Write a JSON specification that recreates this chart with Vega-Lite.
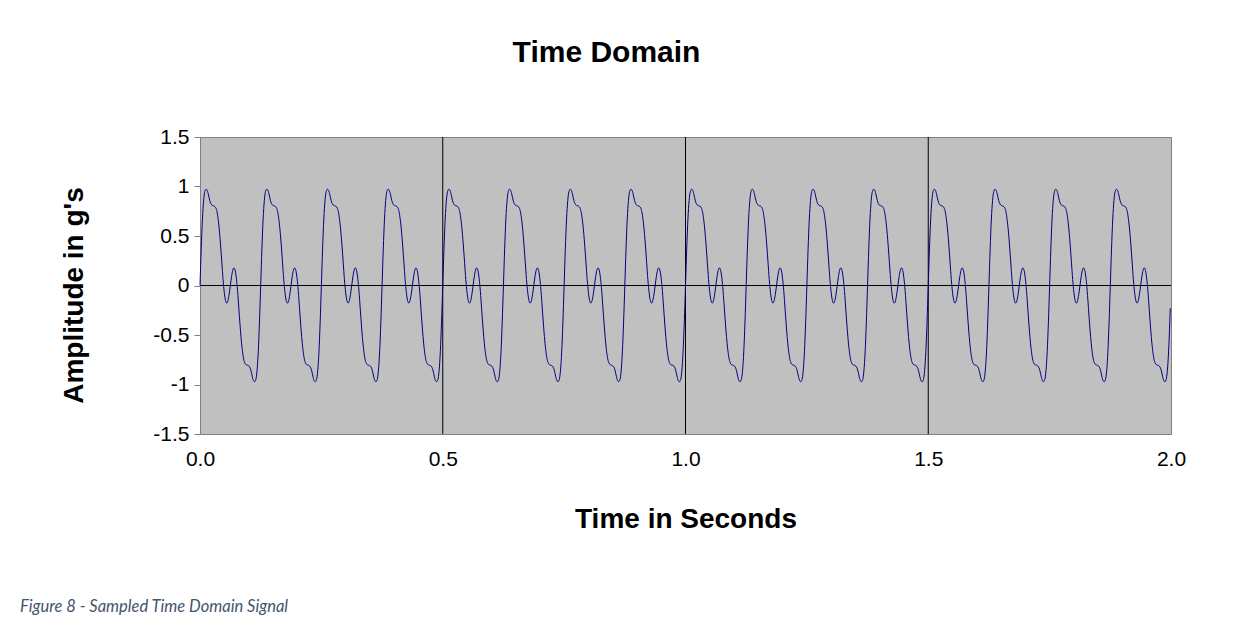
{
"$schema": "https://vega.github.io/schema/vega-lite/v6.json",
"width": 971, "height": 297,
"autosize": {"type": "none"},
"padding": {"left": 200, "top": 137, "right": 81, "bottom": 193},
"background": "white",
"config": {
  "view": {"fill": "#C0C0C0", "stroke": "#808080", "strokeWidth": 1},
  "font": "Liberation Sans",
  "axis": {"labelFont": "Liberation Sans", "titleFont": "Liberation Sans", "labelColor": "black", "titleColor": "black", "grid": false}
},
"title": {"text": "Figure 8 - Sampled Time Domain Signal", "orient": "bottom", "anchor": "start", "frame": "group", "dx": -180, "offset": 66, "font": "Lato", "fontStyle": "italic", "fontWeight": "normal", "fontSize": 16.5, "color": "#44546A"},
"resolve": {"axis": {"x": "independent"}},
"layer": [
 {"data": {"values": [{"t": 0.5}, {"t": 1}, {"t": 1.5}]},
  "mark": {"type": "rule", "color": "black", "strokeWidth": 1},
  "encoding": {"x": {"field": "t", "type": "quantitative", "scale": {"domain": [0, 2], "nice": false},
    "axis": {"orient": "top", "labels": false, "ticks": false, "domain": false, "title": "Time Domain", "titleFontSize": 30, "titleFontWeight": "bold", "titlePadding": 70, "titleX": 406}}}},
 {"data": {"values": [{"level": 0}]},
  "mark": {"type": "rule", "color": "black", "strokeWidth": 1},
  "encoding": {"y": {"datum": 0, "type": "quantitative"}}},
 {"data": {"values": [
{"t":0,"g":0},{"t":0.0025,"g":0.37},{"t":0.005,"g":0.67},{"t":0.0075,"g":0.86},{"t":0.01,"g":0.95},{"t":0.0125,"g":0.972},{"t":0.015,"g":0.96},{"t":0.0175,"g":0.915},{"t":0.02,"g":0.86},{"t":0.0225,"g":0.825},{"t":0.025,"g":0.81},{"t":0.0275,"g":0.805},{"t":0.03,"g":0.8},{"t":0.0325,"g":0.785},{"t":0.035,"g":0.745},{"t":0.0375,"g":0.665},{"t":0.04,"g":0.55},{"t":0.0425,"g":0.4},{"t":0.045,"g":0.23},{"t":0.0475,"g":0.06},{"t":0.05,"g":-0.07},{"t":0.0525,"g":-0.15},{"t":0.055,"g":-0.178},{"t":0.0575,"g":-0.155},{"t":0.06,"g":-0.09},{"t":0.0625,"g":0},{"t":0.065,"g":0.09},{"t":0.0675,"g":0.155},{"t":0.07,"g":0.178},{"t":0.0725,"g":0.15},{"t":0.075,"g":0.07},{"t":0.0775,"g":-0.06},{"t":0.08,"g":-0.23},{"t":0.0825,"g":-0.4},{"t":0.085,"g":-0.55},{"t":0.0875,"g":-0.665},{"t":0.09,"g":-0.745},{"t":0.0925,"g":-0.785},{"t":0.095,"g":-0.8},{"t":0.0975,"g":-0.805},{"t":0.1,"g":-0.81},{"t":0.1025,"g":-0.825},{"t":0.105,"g":-0.86},{"t":0.1075,"g":-0.915},{"t":0.11,"g":-0.96},{"t":0.1125,"g":-0.972},{"t":0.115,"g":-0.95},{"t":0.1175,"g":-0.86},{"t":0.12,"g":-0.67},{"t":0.1225,"g":-0.37},
{"t":0.125,"g":0},{"t":0.1275,"g":0.37},{"t":0.13,"g":0.67},{"t":0.1325,"g":0.86},{"t":0.135,"g":0.95},{"t":0.1375,"g":0.972},{"t":0.14,"g":0.96},{"t":0.1425,"g":0.915},{"t":0.145,"g":0.86},{"t":0.1475,"g":0.825},{"t":0.15,"g":0.81},{"t":0.1525,"g":0.805},{"t":0.155,"g":0.8},{"t":0.1575,"g":0.785},{"t":0.16,"g":0.745},{"t":0.1625,"g":0.665},{"t":0.165,"g":0.55},{"t":0.1675,"g":0.4},{"t":0.17,"g":0.23},{"t":0.1725,"g":0.06},{"t":0.175,"g":-0.07},{"t":0.1775,"g":-0.15},{"t":0.18,"g":-0.178},{"t":0.1825,"g":-0.155},{"t":0.185,"g":-0.09},{"t":0.1875,"g":0},{"t":0.19,"g":0.09},{"t":0.1925,"g":0.155},{"t":0.195,"g":0.178},{"t":0.1975,"g":0.15},{"t":0.2,"g":0.07},{"t":0.2025,"g":-0.06},{"t":0.205,"g":-0.23},{"t":0.2075,"g":-0.4},{"t":0.21,"g":-0.55},{"t":0.2125,"g":-0.665},{"t":0.215,"g":-0.745},{"t":0.2175,"g":-0.785},{"t":0.22,"g":-0.8},{"t":0.2225,"g":-0.805},{"t":0.225,"g":-0.81},{"t":0.2275,"g":-0.825},{"t":0.23,"g":-0.86},{"t":0.2325,"g":-0.915},{"t":0.235,"g":-0.96},{"t":0.2375,"g":-0.972},{"t":0.24,"g":-0.95},{"t":0.2425,"g":-0.86},{"t":0.245,"g":-0.67},{"t":0.2475,"g":-0.37},
{"t":0.25,"g":0},{"t":0.2525,"g":0.37},{"t":0.255,"g":0.67},{"t":0.2575,"g":0.86},{"t":0.26,"g":0.95},{"t":0.2625,"g":0.972},{"t":0.265,"g":0.96},{"t":0.2675,"g":0.915},{"t":0.27,"g":0.86},{"t":0.2725,"g":0.825},{"t":0.275,"g":0.81},{"t":0.2775,"g":0.805},{"t":0.28,"g":0.8},{"t":0.2825,"g":0.785},{"t":0.285,"g":0.745},{"t":0.2875,"g":0.665},{"t":0.29,"g":0.55},{"t":0.2925,"g":0.4},{"t":0.295,"g":0.23},{"t":0.2975,"g":0.06},{"t":0.3,"g":-0.07},{"t":0.3025,"g":-0.15},{"t":0.305,"g":-0.178},{"t":0.3075,"g":-0.155},{"t":0.31,"g":-0.09},{"t":0.3125,"g":0},{"t":0.315,"g":0.09},{"t":0.3175,"g":0.155},{"t":0.32,"g":0.178},{"t":0.3225,"g":0.15},{"t":0.325,"g":0.07},{"t":0.3275,"g":-0.06},{"t":0.33,"g":-0.23},{"t":0.3325,"g":-0.4},{"t":0.335,"g":-0.55},{"t":0.3375,"g":-0.665},{"t":0.34,"g":-0.745},{"t":0.3425,"g":-0.785},{"t":0.345,"g":-0.8},{"t":0.3475,"g":-0.805},{"t":0.35,"g":-0.81},{"t":0.3525,"g":-0.825},{"t":0.355,"g":-0.86},{"t":0.3575,"g":-0.915},{"t":0.36,"g":-0.96},{"t":0.3625,"g":-0.972},{"t":0.365,"g":-0.95},{"t":0.3675,"g":-0.86},{"t":0.37,"g":-0.67},{"t":0.3725,"g":-0.37},
{"t":0.375,"g":0},{"t":0.3775,"g":0.37},{"t":0.38,"g":0.67},{"t":0.3825,"g":0.86},{"t":0.385,"g":0.95},{"t":0.3875,"g":0.972},{"t":0.39,"g":0.96},{"t":0.3925,"g":0.915},{"t":0.395,"g":0.86},{"t":0.3975,"g":0.825},{"t":0.4,"g":0.81},{"t":0.4025,"g":0.805},{"t":0.405,"g":0.8},{"t":0.4075,"g":0.785},{"t":0.41,"g":0.745},{"t":0.4125,"g":0.665},{"t":0.415,"g":0.55},{"t":0.4175,"g":0.4},{"t":0.42,"g":0.23},{"t":0.4225,"g":0.06},{"t":0.425,"g":-0.07},{"t":0.4275,"g":-0.15},{"t":0.43,"g":-0.178},{"t":0.4325,"g":-0.155},{"t":0.435,"g":-0.09},{"t":0.4375,"g":0},{"t":0.44,"g":0.09},{"t":0.4425,"g":0.155},{"t":0.445,"g":0.178},{"t":0.4475,"g":0.15},{"t":0.45,"g":0.07},{"t":0.4525,"g":-0.06},{"t":0.455,"g":-0.23},{"t":0.4575,"g":-0.4},{"t":0.46,"g":-0.55},{"t":0.4625,"g":-0.665},{"t":0.465,"g":-0.745},{"t":0.4675,"g":-0.785},{"t":0.47,"g":-0.8},{"t":0.4725,"g":-0.805},{"t":0.475,"g":-0.81},{"t":0.4775,"g":-0.825},{"t":0.48,"g":-0.86},{"t":0.4825,"g":-0.915},{"t":0.485,"g":-0.96},{"t":0.4875,"g":-0.972},{"t":0.49,"g":-0.95},{"t":0.4925,"g":-0.86},{"t":0.495,"g":-0.67},{"t":0.4975,"g":-0.37},
{"t":0.5,"g":0},{"t":0.5025,"g":0.37},{"t":0.505,"g":0.67},{"t":0.5075,"g":0.86},{"t":0.51,"g":0.95},{"t":0.5125,"g":0.972},{"t":0.515,"g":0.96},{"t":0.5175,"g":0.915},{"t":0.52,"g":0.86},{"t":0.5225,"g":0.825},{"t":0.525,"g":0.81},{"t":0.5275,"g":0.805},{"t":0.53,"g":0.8},{"t":0.5325,"g":0.785},{"t":0.535,"g":0.745},{"t":0.5375,"g":0.665},{"t":0.54,"g":0.55},{"t":0.5425,"g":0.4},{"t":0.545,"g":0.23},{"t":0.5475,"g":0.06},{"t":0.55,"g":-0.07},{"t":0.5525,"g":-0.15},{"t":0.555,"g":-0.178},{"t":0.5575,"g":-0.155},{"t":0.56,"g":-0.09},{"t":0.5625,"g":0},{"t":0.565,"g":0.09},{"t":0.5675,"g":0.155},{"t":0.57,"g":0.178},{"t":0.5725,"g":0.15},{"t":0.575,"g":0.07},{"t":0.5775,"g":-0.06},{"t":0.58,"g":-0.23},{"t":0.5825,"g":-0.4},{"t":0.585,"g":-0.55},{"t":0.5875,"g":-0.665},{"t":0.59,"g":-0.745},{"t":0.5925,"g":-0.785},{"t":0.595,"g":-0.8},{"t":0.5975,"g":-0.805},{"t":0.6,"g":-0.81},{"t":0.6025,"g":-0.825},{"t":0.605,"g":-0.86},{"t":0.6075,"g":-0.915},{"t":0.61,"g":-0.96},{"t":0.6125,"g":-0.972},{"t":0.615,"g":-0.95},{"t":0.6175,"g":-0.86},{"t":0.62,"g":-0.67},{"t":0.6225,"g":-0.37},
{"t":0.625,"g":0},{"t":0.6275,"g":0.37},{"t":0.63,"g":0.67},{"t":0.6325,"g":0.86},{"t":0.635,"g":0.95},{"t":0.6375,"g":0.972},{"t":0.64,"g":0.96},{"t":0.6425,"g":0.915},{"t":0.645,"g":0.86},{"t":0.6475,"g":0.825},{"t":0.65,"g":0.81},{"t":0.6525,"g":0.805},{"t":0.655,"g":0.8},{"t":0.6575,"g":0.785},{"t":0.66,"g":0.745},{"t":0.6625,"g":0.665},{"t":0.665,"g":0.55},{"t":0.6675,"g":0.4},{"t":0.67,"g":0.23},{"t":0.6725,"g":0.06},{"t":0.675,"g":-0.07},{"t":0.6775,"g":-0.15},{"t":0.68,"g":-0.178},{"t":0.6825,"g":-0.155},{"t":0.685,"g":-0.09},{"t":0.6875,"g":0},{"t":0.69,"g":0.09},{"t":0.6925,"g":0.155},{"t":0.695,"g":0.178},{"t":0.6975,"g":0.15},{"t":0.7,"g":0.07},{"t":0.7025,"g":-0.06},{"t":0.705,"g":-0.23},{"t":0.7075,"g":-0.4},{"t":0.71,"g":-0.55},{"t":0.7125,"g":-0.665},{"t":0.715,"g":-0.745},{"t":0.7175,"g":-0.785},{"t":0.72,"g":-0.8},{"t":0.7225,"g":-0.805},{"t":0.725,"g":-0.81},{"t":0.7275,"g":-0.825},{"t":0.73,"g":-0.86},{"t":0.7325,"g":-0.915},{"t":0.735,"g":-0.96},{"t":0.7375,"g":-0.972},{"t":0.74,"g":-0.95},{"t":0.7425,"g":-0.86},{"t":0.745,"g":-0.67},{"t":0.7475,"g":-0.37},
{"t":0.75,"g":0},{"t":0.7525,"g":0.37},{"t":0.755,"g":0.67},{"t":0.7575,"g":0.86},{"t":0.76,"g":0.95},{"t":0.7625,"g":0.972},{"t":0.765,"g":0.96},{"t":0.7675,"g":0.915},{"t":0.77,"g":0.86},{"t":0.7725,"g":0.825},{"t":0.775,"g":0.81},{"t":0.7775,"g":0.805},{"t":0.78,"g":0.8},{"t":0.7825,"g":0.785},{"t":0.785,"g":0.745},{"t":0.7875,"g":0.665},{"t":0.79,"g":0.55},{"t":0.7925,"g":0.4},{"t":0.795,"g":0.23},{"t":0.7975,"g":0.06},{"t":0.8,"g":-0.07},{"t":0.8025,"g":-0.15},{"t":0.805,"g":-0.178},{"t":0.8075,"g":-0.155},{"t":0.81,"g":-0.09},{"t":0.8125,"g":0},{"t":0.815,"g":0.09},{"t":0.8175,"g":0.155},{"t":0.82,"g":0.178},{"t":0.8225,"g":0.15},{"t":0.825,"g":0.07},{"t":0.8275,"g":-0.06},{"t":0.83,"g":-0.23},{"t":0.8325,"g":-0.4},{"t":0.835,"g":-0.55},{"t":0.8375,"g":-0.665},{"t":0.84,"g":-0.745},{"t":0.8425,"g":-0.785},{"t":0.845,"g":-0.8},{"t":0.8475,"g":-0.805},{"t":0.85,"g":-0.81},{"t":0.8525,"g":-0.825},{"t":0.855,"g":-0.86},{"t":0.8575,"g":-0.915},{"t":0.86,"g":-0.96},{"t":0.8625,"g":-0.972},{"t":0.865,"g":-0.95},{"t":0.8675,"g":-0.86},{"t":0.87,"g":-0.67},{"t":0.8725,"g":-0.37},
{"t":0.875,"g":0},{"t":0.8775,"g":0.37},{"t":0.88,"g":0.67},{"t":0.8825,"g":0.86},{"t":0.885,"g":0.95},{"t":0.8875,"g":0.972},{"t":0.89,"g":0.96},{"t":0.8925,"g":0.915},{"t":0.895,"g":0.86},{"t":0.8975,"g":0.825},{"t":0.9,"g":0.81},{"t":0.9025,"g":0.805},{"t":0.905,"g":0.8},{"t":0.9075,"g":0.785},{"t":0.91,"g":0.745},{"t":0.9125,"g":0.665},{"t":0.915,"g":0.55},{"t":0.9175,"g":0.4},{"t":0.92,"g":0.23},{"t":0.9225,"g":0.06},{"t":0.925,"g":-0.07},{"t":0.9275,"g":-0.15},{"t":0.93,"g":-0.178},{"t":0.9325,"g":-0.155},{"t":0.935,"g":-0.09},{"t":0.9375,"g":0},{"t":0.94,"g":0.09},{"t":0.9425,"g":0.155},{"t":0.945,"g":0.178},{"t":0.9475,"g":0.15},{"t":0.95,"g":0.07},{"t":0.9525,"g":-0.06},{"t":0.955,"g":-0.23},{"t":0.9575,"g":-0.4},{"t":0.96,"g":-0.55},{"t":0.9625,"g":-0.665},{"t":0.965,"g":-0.745},{"t":0.9675,"g":-0.785},{"t":0.97,"g":-0.8},{"t":0.9725,"g":-0.805},{"t":0.975,"g":-0.81},{"t":0.9775,"g":-0.825},{"t":0.98,"g":-0.86},{"t":0.9825,"g":-0.915},{"t":0.985,"g":-0.96},{"t":0.9875,"g":-0.972},{"t":0.99,"g":-0.95},{"t":0.9925,"g":-0.86},{"t":0.995,"g":-0.67},{"t":0.9975,"g":-0.37},
{"t":1,"g":0},{"t":1.0025,"g":0.37},{"t":1.005,"g":0.67},{"t":1.0075,"g":0.86},{"t":1.01,"g":0.95},{"t":1.0125,"g":0.972},{"t":1.015,"g":0.96},{"t":1.0175,"g":0.915},{"t":1.02,"g":0.86},{"t":1.0225,"g":0.825},{"t":1.025,"g":0.81},{"t":1.0275,"g":0.805},{"t":1.03,"g":0.8},{"t":1.0325,"g":0.785},{"t":1.035,"g":0.745},{"t":1.0375,"g":0.665},{"t":1.04,"g":0.55},{"t":1.0425,"g":0.4},{"t":1.045,"g":0.23},{"t":1.0475,"g":0.06},{"t":1.05,"g":-0.07},{"t":1.0525,"g":-0.15},{"t":1.055,"g":-0.178},{"t":1.0575,"g":-0.155},{"t":1.06,"g":-0.09},{"t":1.0625,"g":0},{"t":1.065,"g":0.09},{"t":1.0675,"g":0.155},{"t":1.07,"g":0.178},{"t":1.0725,"g":0.15},{"t":1.075,"g":0.07},{"t":1.0775,"g":-0.06},{"t":1.08,"g":-0.23},{"t":1.0825,"g":-0.4},{"t":1.085,"g":-0.55},{"t":1.0875,"g":-0.665},{"t":1.09,"g":-0.745},{"t":1.0925,"g":-0.785},{"t":1.095,"g":-0.8},{"t":1.0975,"g":-0.805},{"t":1.1,"g":-0.81},{"t":1.1025,"g":-0.825},{"t":1.105,"g":-0.86},{"t":1.1075,"g":-0.915},{"t":1.11,"g":-0.96},{"t":1.1125,"g":-0.972},{"t":1.115,"g":-0.95},{"t":1.1175,"g":-0.86},{"t":1.12,"g":-0.67},{"t":1.1225,"g":-0.37},
{"t":1.125,"g":0},{"t":1.1275,"g":0.37},{"t":1.13,"g":0.67},{"t":1.1325,"g":0.86},{"t":1.135,"g":0.95},{"t":1.1375,"g":0.972},{"t":1.14,"g":0.96},{"t":1.1425,"g":0.915},{"t":1.145,"g":0.86},{"t":1.1475,"g":0.825},{"t":1.15,"g":0.81},{"t":1.1525,"g":0.805},{"t":1.155,"g":0.8},{"t":1.1575,"g":0.785},{"t":1.16,"g":0.745},{"t":1.1625,"g":0.665},{"t":1.165,"g":0.55},{"t":1.1675,"g":0.4},{"t":1.17,"g":0.23},{"t":1.1725,"g":0.06},{"t":1.175,"g":-0.07},{"t":1.1775,"g":-0.15},{"t":1.18,"g":-0.178},{"t":1.1825,"g":-0.155},{"t":1.185,"g":-0.09},{"t":1.1875,"g":0},{"t":1.19,"g":0.09},{"t":1.1925,"g":0.155},{"t":1.195,"g":0.178},{"t":1.1975,"g":0.15},{"t":1.2,"g":0.07},{"t":1.2025,"g":-0.06},{"t":1.205,"g":-0.23},{"t":1.2075,"g":-0.4},{"t":1.21,"g":-0.55},{"t":1.2125,"g":-0.665},{"t":1.215,"g":-0.745},{"t":1.2175,"g":-0.785},{"t":1.22,"g":-0.8},{"t":1.2225,"g":-0.805},{"t":1.225,"g":-0.81},{"t":1.2275,"g":-0.825},{"t":1.23,"g":-0.86},{"t":1.2325,"g":-0.915},{"t":1.235,"g":-0.96},{"t":1.2375,"g":-0.972},{"t":1.24,"g":-0.95},{"t":1.2425,"g":-0.86},{"t":1.245,"g":-0.67},{"t":1.2475,"g":-0.37},
{"t":1.25,"g":0},{"t":1.2525,"g":0.37},{"t":1.255,"g":0.67},{"t":1.2575,"g":0.86},{"t":1.26,"g":0.95},{"t":1.2625,"g":0.972},{"t":1.265,"g":0.96},{"t":1.2675,"g":0.915},{"t":1.27,"g":0.86},{"t":1.2725,"g":0.825},{"t":1.275,"g":0.81},{"t":1.2775,"g":0.805},{"t":1.28,"g":0.8},{"t":1.2825,"g":0.785},{"t":1.285,"g":0.745},{"t":1.2875,"g":0.665},{"t":1.29,"g":0.55},{"t":1.2925,"g":0.4},{"t":1.295,"g":0.23},{"t":1.2975,"g":0.06},{"t":1.3,"g":-0.07},{"t":1.3025,"g":-0.15},{"t":1.305,"g":-0.178},{"t":1.3075,"g":-0.155},{"t":1.31,"g":-0.09},{"t":1.3125,"g":0},{"t":1.315,"g":0.09},{"t":1.3175,"g":0.155},{"t":1.32,"g":0.178},{"t":1.3225,"g":0.15},{"t":1.325,"g":0.07},{"t":1.3275,"g":-0.06},{"t":1.33,"g":-0.23},{"t":1.3325,"g":-0.4},{"t":1.335,"g":-0.55},{"t":1.3375,"g":-0.665},{"t":1.34,"g":-0.745},{"t":1.3425,"g":-0.785},{"t":1.345,"g":-0.8},{"t":1.3475,"g":-0.805},{"t":1.35,"g":-0.81},{"t":1.3525,"g":-0.825},{"t":1.355,"g":-0.86},{"t":1.3575,"g":-0.915},{"t":1.36,"g":-0.96},{"t":1.3625,"g":-0.972},{"t":1.365,"g":-0.95},{"t":1.3675,"g":-0.86},{"t":1.37,"g":-0.67},{"t":1.3725,"g":-0.37},
{"t":1.375,"g":0},{"t":1.3775,"g":0.37},{"t":1.38,"g":0.67},{"t":1.3825,"g":0.86},{"t":1.385,"g":0.95},{"t":1.3875,"g":0.972},{"t":1.39,"g":0.96},{"t":1.3925,"g":0.915},{"t":1.395,"g":0.86},{"t":1.3975,"g":0.825},{"t":1.4,"g":0.81},{"t":1.4025,"g":0.805},{"t":1.405,"g":0.8},{"t":1.4075,"g":0.785},{"t":1.41,"g":0.745},{"t":1.4125,"g":0.665},{"t":1.415,"g":0.55},{"t":1.4175,"g":0.4},{"t":1.42,"g":0.23},{"t":1.4225,"g":0.06},{"t":1.425,"g":-0.07},{"t":1.4275,"g":-0.15},{"t":1.43,"g":-0.178},{"t":1.4325,"g":-0.155},{"t":1.435,"g":-0.09},{"t":1.4375,"g":0},{"t":1.44,"g":0.09},{"t":1.4425,"g":0.155},{"t":1.445,"g":0.178},{"t":1.4475,"g":0.15},{"t":1.45,"g":0.07},{"t":1.4525,"g":-0.06},{"t":1.455,"g":-0.23},{"t":1.4575,"g":-0.4},{"t":1.46,"g":-0.55},{"t":1.4625,"g":-0.665},{"t":1.465,"g":-0.745},{"t":1.4675,"g":-0.785},{"t":1.47,"g":-0.8},{"t":1.4725,"g":-0.805},{"t":1.475,"g":-0.81},{"t":1.4775,"g":-0.825},{"t":1.48,"g":-0.86},{"t":1.4825,"g":-0.915},{"t":1.485,"g":-0.96},{"t":1.4875,"g":-0.972},{"t":1.49,"g":-0.95},{"t":1.4925,"g":-0.86},{"t":1.495,"g":-0.67},{"t":1.4975,"g":-0.37},
{"t":1.5,"g":0},{"t":1.5025,"g":0.37},{"t":1.505,"g":0.67},{"t":1.5075,"g":0.86},{"t":1.51,"g":0.95},{"t":1.5125,"g":0.972},{"t":1.515,"g":0.96},{"t":1.5175,"g":0.915},{"t":1.52,"g":0.86},{"t":1.5225,"g":0.825},{"t":1.525,"g":0.81},{"t":1.5275,"g":0.805},{"t":1.53,"g":0.8},{"t":1.5325,"g":0.785},{"t":1.535,"g":0.745},{"t":1.5375,"g":0.665},{"t":1.54,"g":0.55},{"t":1.5425,"g":0.4},{"t":1.545,"g":0.23},{"t":1.5475,"g":0.06},{"t":1.55,"g":-0.07},{"t":1.5525,"g":-0.15},{"t":1.555,"g":-0.178},{"t":1.5575,"g":-0.155},{"t":1.56,"g":-0.09},{"t":1.5625,"g":0},{"t":1.565,"g":0.09},{"t":1.5675,"g":0.155},{"t":1.57,"g":0.178},{"t":1.5725,"g":0.15},{"t":1.575,"g":0.07},{"t":1.5775,"g":-0.06},{"t":1.58,"g":-0.23},{"t":1.5825,"g":-0.4},{"t":1.585,"g":-0.55},{"t":1.5875,"g":-0.665},{"t":1.59,"g":-0.745},{"t":1.5925,"g":-0.785},{"t":1.595,"g":-0.8},{"t":1.5975,"g":-0.805},{"t":1.6,"g":-0.81},{"t":1.6025,"g":-0.825},{"t":1.605,"g":-0.86},{"t":1.6075,"g":-0.915},{"t":1.61,"g":-0.96},{"t":1.6125,"g":-0.972},{"t":1.615,"g":-0.95},{"t":1.6175,"g":-0.86},{"t":1.62,"g":-0.67},{"t":1.6225,"g":-0.37},
{"t":1.625,"g":0},{"t":1.6275,"g":0.37},{"t":1.63,"g":0.67},{"t":1.6325,"g":0.86},{"t":1.635,"g":0.95},{"t":1.6375,"g":0.972},{"t":1.64,"g":0.96},{"t":1.6425,"g":0.915},{"t":1.645,"g":0.86},{"t":1.6475,"g":0.825},{"t":1.65,"g":0.81},{"t":1.6525,"g":0.805},{"t":1.655,"g":0.8},{"t":1.6575,"g":0.785},{"t":1.66,"g":0.745},{"t":1.6625,"g":0.665},{"t":1.665,"g":0.55},{"t":1.6675,"g":0.4},{"t":1.67,"g":0.23},{"t":1.6725,"g":0.06},{"t":1.675,"g":-0.07},{"t":1.6775,"g":-0.15},{"t":1.68,"g":-0.178},{"t":1.6825,"g":-0.155},{"t":1.685,"g":-0.09},{"t":1.6875,"g":0},{"t":1.69,"g":0.09},{"t":1.6925,"g":0.155},{"t":1.695,"g":0.178},{"t":1.6975,"g":0.15},{"t":1.7,"g":0.07},{"t":1.7025,"g":-0.06},{"t":1.705,"g":-0.23},{"t":1.7075,"g":-0.4},{"t":1.71,"g":-0.55},{"t":1.7125,"g":-0.665},{"t":1.715,"g":-0.745},{"t":1.7175,"g":-0.785},{"t":1.72,"g":-0.8},{"t":1.7225,"g":-0.805},{"t":1.725,"g":-0.81},{"t":1.7275,"g":-0.825},{"t":1.73,"g":-0.86},{"t":1.7325,"g":-0.915},{"t":1.735,"g":-0.96},{"t":1.7375,"g":-0.972},{"t":1.74,"g":-0.95},{"t":1.7425,"g":-0.86},{"t":1.745,"g":-0.67},{"t":1.7475,"g":-0.37},
{"t":1.75,"g":0},{"t":1.7525,"g":0.37},{"t":1.755,"g":0.67},{"t":1.7575,"g":0.86},{"t":1.76,"g":0.95},{"t":1.7625,"g":0.972},{"t":1.765,"g":0.96},{"t":1.7675,"g":0.915},{"t":1.77,"g":0.86},{"t":1.7725,"g":0.825},{"t":1.775,"g":0.81},{"t":1.7775,"g":0.805},{"t":1.78,"g":0.8},{"t":1.7825,"g":0.785},{"t":1.785,"g":0.745},{"t":1.7875,"g":0.665},{"t":1.79,"g":0.55},{"t":1.7925,"g":0.4},{"t":1.795,"g":0.23},{"t":1.7975,"g":0.06},{"t":1.8,"g":-0.07},{"t":1.8025,"g":-0.15},{"t":1.805,"g":-0.178},{"t":1.8075,"g":-0.155},{"t":1.81,"g":-0.09},{"t":1.8125,"g":0},{"t":1.815,"g":0.09},{"t":1.8175,"g":0.155},{"t":1.82,"g":0.178},{"t":1.8225,"g":0.15},{"t":1.825,"g":0.07},{"t":1.8275,"g":-0.06},{"t":1.83,"g":-0.23},{"t":1.8325,"g":-0.4},{"t":1.835,"g":-0.55},{"t":1.8375,"g":-0.665},{"t":1.84,"g":-0.745},{"t":1.8425,"g":-0.785},{"t":1.845,"g":-0.8},{"t":1.8475,"g":-0.805},{"t":1.85,"g":-0.81},{"t":1.8525,"g":-0.825},{"t":1.855,"g":-0.86},{"t":1.8575,"g":-0.915},{"t":1.86,"g":-0.96},{"t":1.8625,"g":-0.972},{"t":1.865,"g":-0.95},{"t":1.8675,"g":-0.86},{"t":1.87,"g":-0.67},{"t":1.8725,"g":-0.37},
{"t":1.875,"g":0},{"t":1.8775,"g":0.37},{"t":1.88,"g":0.67},{"t":1.8825,"g":0.86},{"t":1.885,"g":0.95},{"t":1.8875,"g":0.972},{"t":1.89,"g":0.96},{"t":1.8925,"g":0.915},{"t":1.895,"g":0.86},{"t":1.8975,"g":0.825},{"t":1.9,"g":0.81},{"t":1.9025,"g":0.805},{"t":1.905,"g":0.8},{"t":1.9075,"g":0.785},{"t":1.91,"g":0.745},{"t":1.9125,"g":0.665},{"t":1.915,"g":0.55},{"t":1.9175,"g":0.4},{"t":1.92,"g":0.23},{"t":1.9225,"g":0.06},{"t":1.925,"g":-0.07},{"t":1.9275,"g":-0.15},{"t":1.93,"g":-0.178},{"t":1.9325,"g":-0.155},{"t":1.935,"g":-0.09},{"t":1.9375,"g":0},{"t":1.94,"g":0.09},{"t":1.9425,"g":0.155},{"t":1.945,"g":0.178},{"t":1.9475,"g":0.15},{"t":1.95,"g":0.07},{"t":1.9525,"g":-0.06},{"t":1.955,"g":-0.23},{"t":1.9575,"g":-0.4},{"t":1.96,"g":-0.55},{"t":1.9625,"g":-0.665},{"t":1.965,"g":-0.745},{"t":1.9675,"g":-0.785},{"t":1.97,"g":-0.8},{"t":1.9725,"g":-0.805},{"t":1.975,"g":-0.81},{"t":1.9775,"g":-0.825},{"t":1.98,"g":-0.86},{"t":1.9825,"g":-0.915},{"t":1.985,"g":-0.96},{"t":1.9875,"g":-0.972},{"t":1.99,"g":-0.95},{"t":1.9925,"g":-0.86},{"t":1.995,"g":-0.67},{"t":1.9975,"g":-0.37},{"t":1.9985,"g":-0.23}
  ]},
  "mark": {"type": "line", "color": "#000080", "strokeWidth": 1, "interpolate": "monotone"},
  "encoding": {
    "x": {"field": "t", "type": "quantitative", "scale": {"domain": [0, 2], "nice": false},
      "axis": {"orient": "bottom", "values": [0, 0.5, 1, 1.5, 2], "format": ".1f", "ticks": false, "domainColor": "#808080", "labelFontSize": 21, "labelPadding": 14, "labelFlush": false, "labelOverlap": false, "title": "Time in Seconds", "titleFontSize": 28, "titleFontWeight": "bold", "titlePadding": 36}},
    "y": {"field": "g", "type": "quantitative", "scale": {"domain": [-1.5, 1.5], "nice": false, "zero": false},
      "axis": {"values": [-1.5, -1, -0.5, 0, 0.5, 1, 1.5], "labelExpr": "datum.value < 0 ? '-' + format(-datum.value, '~g') : format(datum.value, '~g')", "tickSize": 6, "tickColor": "#808080", "domainColor": "#808080", "labelFontSize": 21, "labelPadding": 5, "labelFlush": false, "labelOverlap": false, "title": "Amplitude in g's", "titleFontSize": 28, "titleFontWeight": "bold", "titlePadding": 64, "titleY": 158}}
  }}
]
}
